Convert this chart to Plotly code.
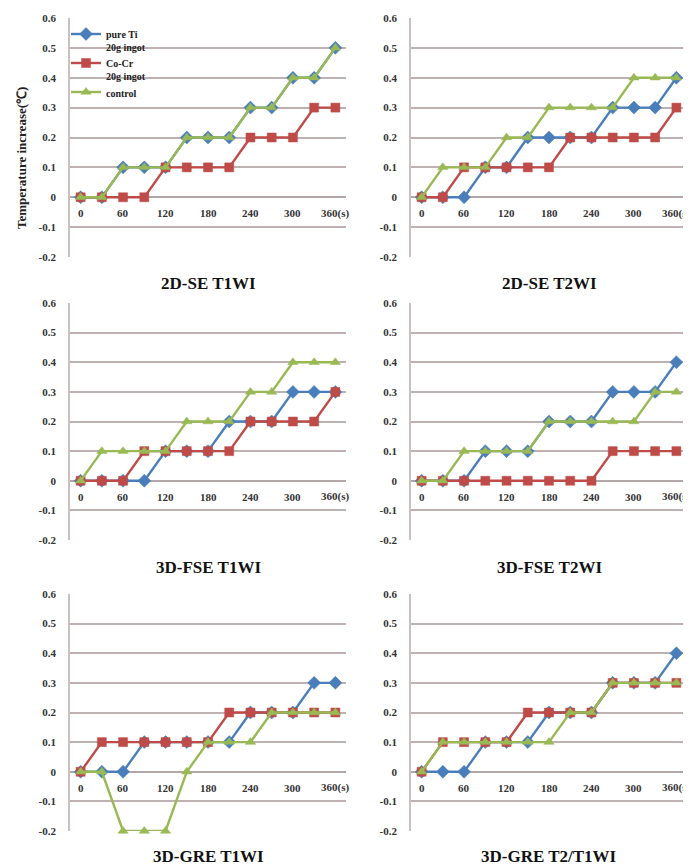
import plotly.graph_objects as go

times = [0, 30, 60, 90, 120, 150, 180, 210, 240, 270, 300, 330, 360]
tick_vals = [0, 60, 120, 180, 240, 300, 360]
tick_text = ["0", "60", "120", "180", "240", "300", "360(s)"]
y_ticks = [-0.2, -0.1, 0, 0.1, 0.2, 0.3, 0.4, 0.5, 0.6]
y_tick_text = ["-0.2", "-0.1", "0", "0.1", "0.2", "0.3", "0.4", "0.5", "0.6"]

panel_titles = ["2D-SE T1WI", "2D-SE T2WI", "3D-FSE T1WI", "3D-FSE T2WI",
                "3D-GRE T1WI", "3D-GRE T2/T1WI"]
series_names = ["pure Ti<br>20g ingot", "Co-Cr<br>20g ingot", "control"]

pure_ti = [
    [0, 0, 0.1, 0.1, 0.1, 0.2, 0.2, 0.2, 0.3, 0.3, 0.4, 0.4, 0.5],
    [0, 0, 0, 0.1, 0.1, 0.2, 0.2, 0.2, 0.2, 0.3, 0.3, 0.3, 0.4],
    [0, 0, 0, 0, 0.1, 0.1, 0.1, 0.2, 0.2, 0.2, 0.3, 0.3, 0.3],
    [0, 0, 0, 0.1, 0.1, 0.1, 0.2, 0.2, 0.2, 0.3, 0.3, 0.3, 0.4],
    [0, 0, 0, 0.1, 0.1, 0.1, 0.1, 0.1, 0.2, 0.2, 0.2, 0.3, 0.3],
    [0, 0, 0, 0.1, 0.1, 0.1, 0.2, 0.2, 0.2, 0.3, 0.3, 0.3, 0.4],
]
co_cr = [
    [0, 0, 0, 0, 0.1, 0.1, 0.1, 0.1, 0.2, 0.2, 0.2, 0.3, 0.3],
    [0, 0, 0.1, 0.1, 0.1, 0.1, 0.1, 0.2, 0.2, 0.2, 0.2, 0.2, 0.3],
    [0, 0, 0, 0.1, 0.1, 0.1, 0.1, 0.1, 0.2, 0.2, 0.2, 0.2, 0.3],
    [0, 0, 0, 0, 0, 0, 0, 0, 0, 0.1, 0.1, 0.1, 0.1],
    [0, 0.1, 0.1, 0.1, 0.1, 0.1, 0.1, 0.2, 0.2, 0.2, 0.2, 0.2, 0.2],
    [0, 0.1, 0.1, 0.1, 0.1, 0.2, 0.2, 0.2, 0.2, 0.3, 0.3, 0.3, 0.3],
]
control = [
    [0, 0, 0.1, 0.1, 0.1, 0.2, 0.2, 0.2, 0.3, 0.3, 0.4, 0.4, 0.5],
    [0, 0.1, 0.1, 0.1, 0.2, 0.2, 0.3, 0.3, 0.3, 0.3, 0.4, 0.4, 0.4],
    [0, 0.1, 0.1, 0.1, 0.1, 0.2, 0.2, 0.2, 0.3, 0.3, 0.4, 0.4, 0.4],
    [0, 0, 0.1, 0.1, 0.1, 0.1, 0.2, 0.2, 0.2, 0.2, 0.2, 0.3, 0.3],
    [0, 0, -0.2, -0.2, -0.2, 0, 0.1, 0.1, 0.1, 0.2, 0.2, 0.2, 0.2],
    [0, 0.1, 0.1, 0.1, 0.1, 0.1, 0.1, 0.2, 0.2, 0.3, 0.3, 0.3, 0.3],
]

# The page places the figure 8px in from the top-left corner.
OFF = 8
W, H = 691, 868 - OFF
colors = ["#4a7ebb", "#be4b48", "#98b954"]
symbols = ["diamond", "square", "triangle-up"]
serif = "Liberation Serif"

# pixel layout (screen coordinates)
x_doms_px = [(70, 346), (411, 687)]
y_doms_px = [(18, 257), (303, 540), (594, 831)]
title_y_px = [283, 567, 856]


def fx(px):
    return (px - OFF) / W


def fy(px):
    return 1 - (px - OFF) / H


fig = go.Figure()
annotations = []
data_sets = [pure_ti, co_cr, control]

for i in range(6):
    r, c = divmod(i, 2)
    n = "" if i == 0 else str(i + 1)
    xa, ya = "x" + n, "y" + n
    for s in range(3):
        fig.add_trace(go.Scatter(
            x=times, y=data_sets[s][i], mode="lines+markers",
            name=series_names[s], legendgroup=str(s), showlegend=(i == 0),
            line=dict(color=colors[s], width=2.4),
            marker=dict(symbol=symbols[s], size=9 if s != 0 else 10, color=colors[s],
                        line=dict(color=colors[s], width=0.5)),
            xaxis=xa, yaxis=ya, cliponaxis=False,
        ))
    x0, x1 = x_doms_px[c]
    y0, y1 = y_doms_px[r]
    fig.layout["xaxis" + n] = dict(
        domain=[fx(x0), fx(x1)], anchor=ya, range=[-15, 375],
        showgrid=False, showticklabels=False, zeroline=False, showline=False,
        fixedrange=True, automargin=False,
    )
    fig.layout["yaxis" + n] = dict(
        domain=[fy(y1), fy(y0)], anchor=xa, range=[-0.2, 0.6],
        tickvals=y_ticks, ticktext=y_tick_text, showgrid=True,
        gridcolor="#bfb1b1", gridwidth=1.6, zeroline=True, zerolinecolor="#b3a6a6",
        zerolinewidth=1.6, showline=True, linecolor="#cbbfbf", linewidth=1.6,
        ticks="", ticklabelstandoff=10, automargin=False,
        tickfont=dict(family=serif, size=11, color="#333333", weight="bold"),
        fixedrange=True,
    )
    for tv, tt in zip(tick_vals, tick_text):
        annotations.append(dict(
            x=tv, y=0, xref=xa, yref=ya, text=tt, showarrow=False,
            yshift=-16, font=dict(family=serif, size=11, color="#333333", weight="bold"),
        ))
    annotations.append(dict(
        x=fx((x0 + x1) / 2), y=fy(title_y_px[r]), xref="paper", yref="paper",
        text=panel_titles[i], showarrow=False, xanchor="center", yanchor="middle",
        font=dict(family=serif, size=17, color="#111111", weight="bold"),
    ))

annotations.append(dict(
    x=fx(22), y=fy(158), xref="paper", yref="paper",
    text="Temperature increase(℃)", showarrow=False, textangle=-90,
    xanchor="center", yanchor="middle",
    font=dict(family=serif, size=13, color="#222222", weight="bold"),
))

fig.update_layout(
    width=W, height=H, margin=dict(l=0, r=0, t=0, b=0, autoexpand=False),
    paper_bgcolor="white", plot_bgcolor="white",
    annotations=annotations,
    legend=dict(
        x=fx(66), y=fy(21), xanchor="left", yanchor="top",
        bgcolor="rgba(0,0,0,0)", valign="top", itemwidth=30,
        font=dict(family=serif, size=10, color="#222222", weight="bold"),
        tracegroupgap=0,
    ),
)

fig.write_html("out.html")
